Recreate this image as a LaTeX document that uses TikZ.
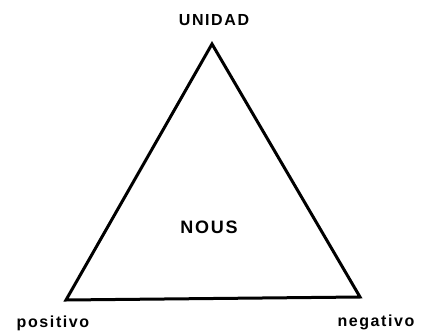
\documentclass[tikz,border=0pt]{standalone}
\usepackage{fontspec}
\newfontfamily\labelfont[LetterSpace=10]{Liberation Sans}
\usetikzlibrary{positioning}

\tikzset{
    vertexlabel/.style={font=\labelfont\bfseries\fontsize{16}{18}\selectfont, inner sep=0pt},
    side/.style={line width=3pt, line join=miter}
}

\begin{document}
\begin{tikzpicture}[x=1pt, y=-1pt]
    \useasboundingbox (0,0) rectangle (422,331);

    % Corners of the triangle
    \coordinate (top) at (212,44);
    \coordinate (left) at (66,300);
    \coordinate (right) at (360,297);

    % Sides
    \draw[side] (top) -- (right) -- (left) -- cycle;

    % Labels
    \node[vertexlabel, anchor=base] (unidad) at (214,26) {UNIDAD};
    \node[vertexlabel, anchor=base] (positivo) at (53,327) {positivo};
    \node[vertexlabel, anchor=base] (negativo) at (376,326) {negativo};
    \node[vertexlabel, font=\labelfont\bfseries\fontsize{18}{20}\selectfont, anchor=base] (nous) at (209,233) {NOUS};
\end{tikzpicture}
\end{document}
